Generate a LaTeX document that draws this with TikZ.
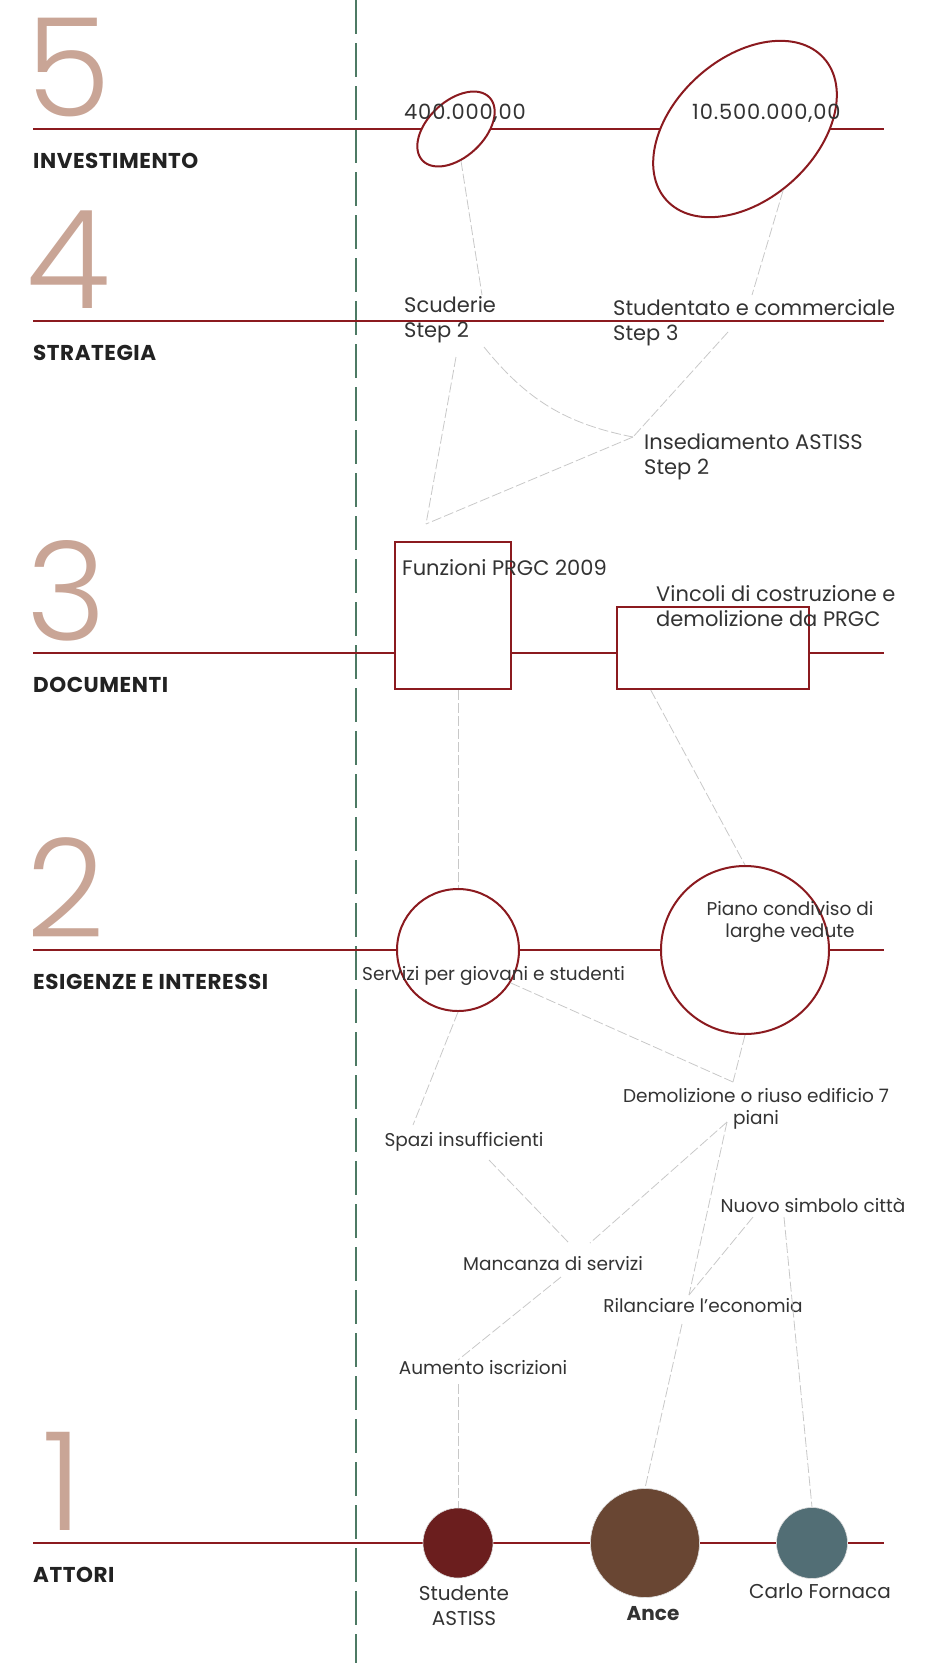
\documentclass[tikz,border=0pt]{standalone}
\usepackage{fontspec}
\setmainfont{Poppins}
\IfFontExistsTF{Poppins Light}{\newfontfamily\numfont{Poppins Light}}{\newfontfamily\numfont{Poppins}}
\newfontfamily\catfont{Poppins}[LetterSpace=2.5]
\newfontfamily\valfont{Poppins}[LetterSpace=4]
\usepackage{xcolor}
\usepackage{tikz}
\usetikzlibrary{positioning,shapes.geometric}

\definecolor{axisred}{HTML}{8B1A1F}
\definecolor{numtan}{HTML}{C9A596}
\definecolor{guidegreen}{HTML}{4D7A64}
\definecolor{linkgray}{HTML}{C8C8C8}
\definecolor{txtgray}{HTML}{333333}
\definecolor{labdark}{HTML}{222222}
\definecolor{studred}{HTML}{6B1E1E}
\definecolor{ancebrown}{HTML}{694633}
\definecolor{carloblue}{HTML}{526E75}

\begin{document}
\begin{tikzpicture}[
  x=1pt, y=-1pt,
  axis/.style={draw=axisred, line width=2pt},
  guide/.style={draw=guidegreen, line width=1.5pt, dash pattern=on 34pt off 9pt},
  link/.style={draw=linkgray, line width=0.8pt, dash pattern=on 10pt off 3pt},
  levelnum/.style={anchor=base west, inner sep=0, text=numtan, font=\numfont\fontsize{137}{137}\selectfont},
  levelname/.style={anchor=base west, inner sep=0, text=labdark, font=\catfont\bfseries\fontsize{21.5}{24}\selectfont},
  frame/.style={draw=axisred, line width=2pt, fill=white, inner sep=0},
  actor/.style={circle, draw=white!75!gray, line width=0.6pt, inner sep=0},
  actlabel/.style={inner sep=0, align=center, text=txtgray, font=\fontsize{20}{25}\selectfont},
  bigtxt/.style={anchor=base west, inner sep=0, align=left, text=txtgray, font=\fontsize{21}{25}\selectfont},
  valtxt/.style={bigtxt, font=\valfont\fontsize{21}{25}\selectfont},
  smalltxt/.style={anchor=base, inner sep=0, align=center, text=txtgray, font=\fontsize{18.5}{22}\selectfont}
]
\useasboundingbox (0,0) rectangle (926,1663);

\draw[guide] (356,0) -- (356,1663);

% levels
\foreach \y/\n/\dx/\lab in {129/5/26/INVESTIMENTO, 321/4/26/STRATEGIA, 653/3/26/DOCUMENTI, 950/2/26/ESIGENZE E INTERESSI, 1543/1/42/ATTORI}{
  \node[levelnum] (num\n) at (\dx,\y-13) {\n};
  \node[levelname] (lab\n) at (33,\y+39) {\lab};
  \draw[axis] (33,\y) -- (884,\y);
}

% shapes on the levels
\node[frame, ellipse, minimum width=92pt, minimum height=56pt, rotate=43] (inv1) at (456,129) {};
\node[frame, ellipse, minimum width=212pt, minimum height=141pt, rotate=42] (inv2) at (745,129) {};
\node[frame, minimum width=116pt, minimum height=147pt] (doc1) at (453,615.5) {};
\node[frame, minimum width=192pt, minimum height=82pt] (doc2) at (713,648) {};
\node[frame, circle, minimum size=122pt] (need1) at (458,950) {};
\node[frame, circle, minimum size=168pt] (need2) at (745,950) {};
\node[actor, fill=studred, minimum size=70pt] (act1) at (458,1543) {};
\node[actor, fill=ancebrown, minimum size=109pt] (act2) at (645,1543) {};
\node[actor, fill=carloblue, minimum size=71pt] (act3) at (812,1543) {};

% texts
\node[valtxt] (val1) at (404,119) {400.000,00};
\node[valtxt] (val2) at (692,119) {10.500.000,00};
\node[bigtxt] (scud) at (404,337) {Scuderie\\Step 2};
\node[bigtxt] (stud) at (613,340) {Studentato e commerciale\\Step 3};
\node[bigtxt] (insed) at (644,474) {Insediamento ASTISS\\Step 2};
\node[bigtxt] (prgc) at (402,575) {Funzioni PRGC 2009};
\node[bigtxt] (vinc) at (656,626) {Vincoli di costruzione e\\demolizione da PRGC};
\node[smalltxt, anchor=base west] (serv) at (362,980) {Servizi per giovani e studenti};
\node[smalltxt] (piano) at (790,937) {Piano condiviso di\\larghe vedute};
\node[smalltxt] (demol) at (756,1124) {Demolizione o riuso edificio 7\\piani};
\node[smalltxt] (spazi) at (464,1146) {Spazi insufficienti};
\node[smalltxt] (nuovo) at (813,1212) {Nuovo simbolo città};
\node[smalltxt] (manc) at (553,1270) {Mancanza di servizi};
\node[smalltxt] (rilan) at (703,1312) {Rilanciare l'economia};
\node[smalltxt] (aum) at (483,1374) {Aumento iscrizioni};
\node[actlabel, below=7pt of act1, xshift=6pt] (name1) {Studente\\ASTISS};
\node[actlabel, below=8pt of act2, xshift=8pt, font=\fontsize{20}{25}\selectfont\bfseries] (name2) {Ance};
\node[actlabel, below=4.5pt of act3, xshift=8pt] (name3) {Carlo Fornaca};

% links
\draw[link] (inv1) -- ([shift={(78,-42)}]scud.base west);
\draw[link] (inv2.-100) -- ([shift={(139,-45)}]stud.base west);
\draw[link] ([shift={(52,20)}]scud.base west) -- ([shift={(32,-17)}]doc1.north west);
\draw[link] ([shift={(80,10)}]scud.base west) to[bend right=20] ([shift={(-11,-37)}]insed.base west);
\draw[link] ([shift={(115,-8)}]stud.base west) -- ([shift={(-11,-37)}]insed.base west);
\draw[link] ([shift={(-11,-37)}]insed.base west) -- ([shift={(32,-17)}]doc1.north west);
\draw[link] (need1.north |- doc1.south) -- (need1.north);
\draw[link] (doc2.-146) -- (need2.north);
\draw[link] (need1.-32) -- ([shift={(-23,-42)}]demol.base);
\draw[link] (need2.south) -- ([shift={(-23,-42)}]demol.base);
\draw[link] (need1.south) -- ([shift={(-51,-21)}]spazi.base);
\draw[link] ([shift={(25,14)}]spazi.base) -- ([shift={(16,-27)}]manc.base);
\draw[link] ([shift={(-29,-2)}]demol.base) -- ([shift={(37,-27)}]manc.base);
\draw[link] ([shift={(-29,-2)}]demol.base) -- ([shift={(-14,-17)}]rilan.base);
\draw[link] ([shift={(-60,5)}]nuovo.base) -- ([shift={(-14,-17)}]rilan.base);
\draw[link] ([shift={(8,7)}]manc.base) -- ([shift={(-25,-14)}]aum.base);
\draw[link] ([shift={(-25,10)}]aum.base) -- (act1.north);
\draw[link] ([shift={(-21,12)}]rilan.base) -- (act2.north);
\draw[link] ([shift={(-29,5)}]nuovo.base) -- (act3.north);

\end{tikzpicture}
\end{document}
